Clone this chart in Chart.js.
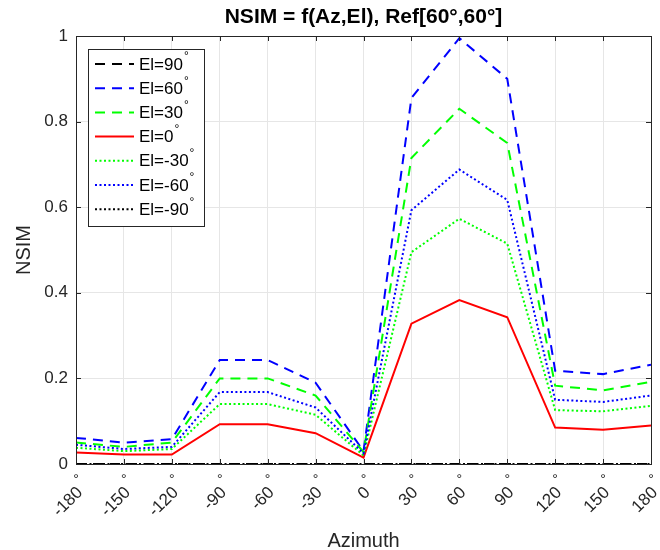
<!DOCTYPE html>
<html>
<head>
<meta charset="utf-8">
<script src="https://cdn.jsdelivr.net/npm/chart.js@4"></script>
<style>
  html, body { margin: 0; padding: 0; background: #fff; }
</style>
</head>
<body>
<canvas id="myChart" width="660" height="550"></canvas>
<script>
// azimuth angles (x) and tick labels
var azimuth = [-180, -150, -120, -90, -60, -30, 0, 30, 60, 90, 120, 150, 180];
var xTickLabels = ['-180', '-150', '-120', '-90', '-60', '-30', '0', '30', '60', '90', '120', '150', '180'];
var yTickLabels = ['0', '0.2', '0.4', '0.6', '0.8', '1'];
var seriesNames = ['El=90°', 'El=60°', 'El=30°', 'El=0°', 'El=-30°', 'El=-60°', 'El=-90°'];
var titleText = 'NSIM = f(Az,El), Ref[60°,60°]';

// NSIM values, one array per elevation
var el90  = [0, 0, 0, 0, 0, 0, 0, 0, 0, 0, 0, 0, 0];
var el60  = [0.061, 0.050, 0.058, 0.243, 0.243, 0.190, 0.030, 0.855, 0.995, 0.900, 0.218, 0.210, 0.232];
var el30  = [0.050, 0.040, 0.050, 0.200, 0.200, 0.160, 0.028, 0.715, 0.830, 0.750, 0.183, 0.172, 0.192];
var el0   = [0.027, 0.022, 0.022, 0.093, 0.093, 0.072, 0.015, 0.328, 0.383, 0.343, 0.085, 0.080, 0.090];
var elm30 = [0.038, 0.030, 0.035, 0.140, 0.140, 0.115, 0.020, 0.495, 0.573, 0.515, 0.126, 0.123, 0.136];
var elm60 = [0.045, 0.035, 0.040, 0.168, 0.168, 0.132, 0.025, 0.593, 0.688, 0.617, 0.150, 0.145, 0.160];
var elm90 = [0, 0, 0, 0, 0, 0, 0, 0, 0, 0, 0, 0, 0];

var FONT = 'Liberation Sans, Arial, Helvetica, sans-serif';

function pts(vals) {
  return azimuth.map(function (a, i) { return { x: a, y: vals[i] }; });
}

var dashed = [10, 7];
var dotted = [2, 2.5];

function ds(i, vals, color, dash) {
  return {
    label: seriesNames[i],
    data: pts(vals),
    borderColor: color,
    backgroundColor: color,
    borderWidth: 2,
    borderDash: dash,
    pointRadius: 0,
    tension: 0,
    fill: false,
    order: 6 - i
  };
}

// box, inward ticks, x tick labels, title and legend, MATLAB style
var matlabBox = {
  id: 'matlabBox',
  afterDraw: function (chart) {
    var c = chart.ctx, a = chart.chartArea;
    var xs = chart.scales.x, ys = chart.scales.y;
    c.save();
    c.strokeStyle = '#262626';
    c.lineWidth = 1;
    c.beginPath();
    xs.ticks.forEach(function (t) {
      var px = Math.round(xs.getPixelForValue(t.value)) + 0.5;
      c.moveTo(px, a.bottom); c.lineTo(px, a.bottom - 5);
      c.moveTo(px, a.top); c.lineTo(px, a.top + 5);
    });
    ys.ticks.forEach(function (t) {
      var py = Math.round(ys.getPixelForValue(t.value)) + 0.5;
      c.moveTo(a.left, py); c.lineTo(a.left + 5, py);
      c.moveTo(a.right, py); c.lineTo(a.right - 5, py);
    });
    c.stroke();
    c.strokeRect(Math.round(a.left) + 0.5, Math.round(a.top) + 0.5,
                 Math.round(a.right - a.left), Math.round(a.bottom - a.top));

    // x tick labels, rotated 45 deg with superscript degree
    c.fillStyle = '#262626';
    xs.ticks.forEach(function (t, i) {
      var px = xs.getPixelForValue(t.value);
      c.save();
      c.translate(px + 4, a.bottom + 26);
      c.rotate(-Math.PI / 4);
      c.font = '17px ' + FONT;
      c.textAlign = 'right';
      c.textBaseline = 'middle';
      c.fillText(xTickLabels[i], 0, 0);
      c.restore();
      c.font = '14px ' + FONT;
      c.textAlign = 'center';
      c.textBaseline = 'middle';
      c.fillText('°', px, a.bottom + 16);
    });

    // title centred on the axes
    c.fillStyle = '#000';
    c.font = 'bold 21px ' + FONT;
    c.textAlign = 'center';
    c.textBaseline = 'middle';
    c.fillText(titleText, (a.left + a.right) / 2, 17);

    // legend
    var bx = 88.5, by = 49.5, bw = 116, bh = 177;
    c.fillStyle = '#fff';
    c.fillRect(bx, by, bw, bh);
    c.strokeStyle = '#262626';
    c.strokeRect(bx, by, bw, bh);
    chart.data.datasets.forEach(function (d, i) {
      var y = 64 + i * 24.2;
      c.beginPath();
      c.strokeStyle = d.borderColor;
      c.lineWidth = 2;
      c.setLineDash(d.borderDash);
      c.moveTo(95, y); c.lineTo(134, y);
      c.stroke();
      c.setLineDash([]);
      var parts = d.label.split('°');
      c.fillStyle = '#000';
      c.font = '17px ' + FONT;
      c.textBaseline = 'middle';
      c.textAlign = 'left';
      c.fillText(parts[0], 139, y + 1);
      var w = c.measureText(parts[0]).width;
      c.font = '12px ' + FONT;
      c.fillText('°', 139 + w + 1, y - 7);
    });
    c.restore();
  }
};

var ctx = document.getElementById('myChart').getContext('2d');
var chart = new Chart(ctx, {
  type: 'line',
  data: {
    datasets: [
      ds(0, el90, '#000000', dashed),
      ds(1, el60, '#0000ff', dashed),
      ds(2, el30, '#00ff00', dashed),
      ds(3, el0, '#ff0000', []),
      ds(4, elm30, '#00ff00', dotted),
      ds(5, elm60, '#0000ff', dotted),
      ds(6, elm90, '#000000', dotted)
    ]
  },
  options: {
    responsive: false,
    animation: false,
    layout: { padding: { left: 0, right: 9, top: 36, bottom: 0 } },
    plugins: {
      legend: { display: false },
      tooltip: { enabled: false },
      title: { display: false }
    },
    scales: {
      x: {
        type: 'linear',
        min: -180,
        max: 180,
        afterFit: function (s) { s.height = 86; s.paddingLeft = 0; s.paddingRight = 0; },
        ticks: {
          stepSize: 30,
          autoSkip: false,
          display: false
        },
        grid: { color: '#e6e6e6', drawTicks: false },
        border: { display: false },
        title: {
          display: true,
          text: 'Azimuth',
          color: '#262626',
          font: { family: FONT, size: 20 },
          padding: { top: 0, bottom: -3 }
        }
      },
      y: {
        min: 0,
        max: 1,
        afterFit: function (s) { s.width = 76; },
        ticks: {
          stepSize: 0.2,
          padding: 8,
          color: '#262626',
          font: { family: FONT, size: 17 },
          callback: function (v, i) { return yTickLabels[i]; }
        },
        grid: { color: '#e6e6e6', drawTicks: false },
        border: { display: false },
        title: {
          display: true,
          text: 'NSIM',
          color: '#262626',
          font: { family: FONT, size: 20 },
          padding: { top: 12, bottom: 0 }
        }
      }
    }
  },
  plugins: [matlabBox]
});
</script>
</body>
</html>
